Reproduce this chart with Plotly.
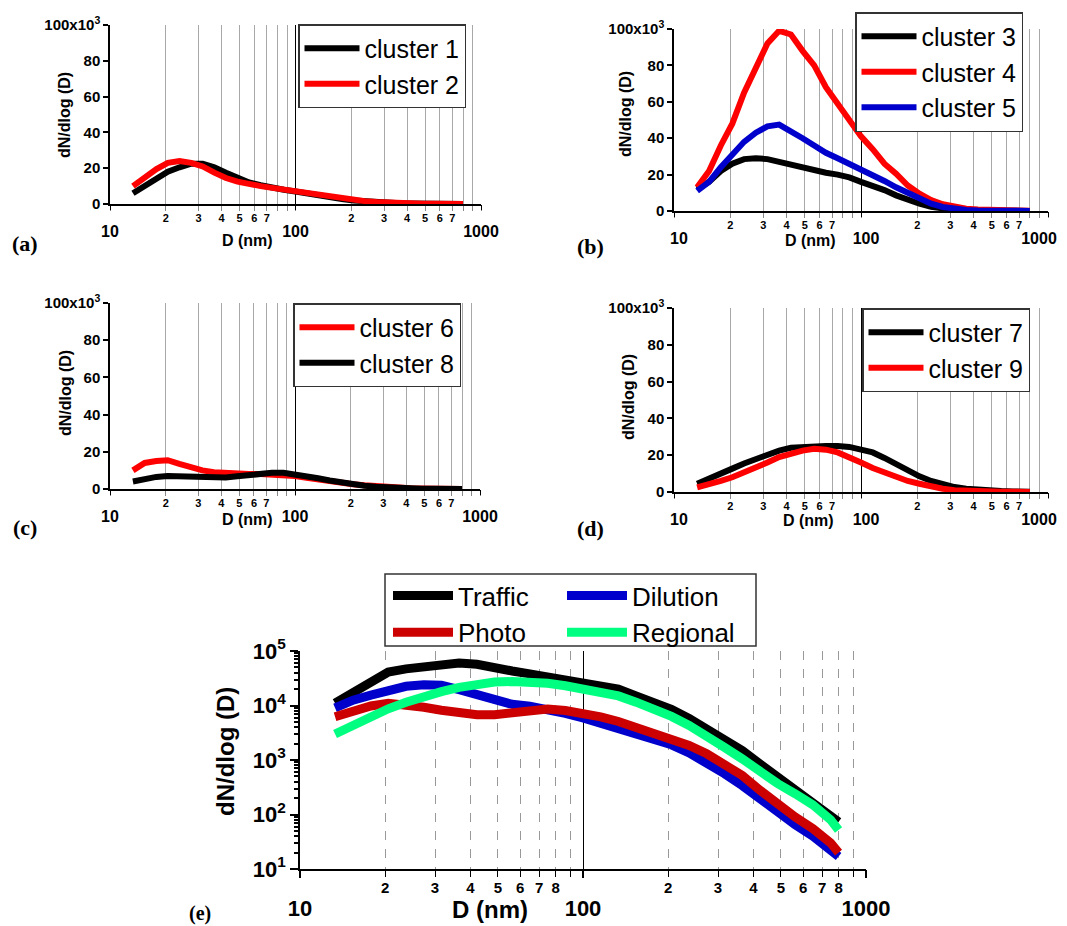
import plotly.graph_objects as go

W, H = 1067, 926          # reference picture size
OFF = 8                   # page body margin in the browser
FW, FH = W - OFF, H - OFF

# ---------------- data (panels a-d, values in 10^3 cm^-3) ----------------
D = [13.3, 15.4, 17.8, 20.5, 23.7, 27.4, 31.6, 36.5, 42.2, 48.7, 56.2, 64.9, 75.0, 86.6, 100,
     115.5, 133.4, 154.0, 177.8, 205.4, 237.1, 273.8, 316.2, 365.2, 421.7, 487.0, 562.3, 649.4, 749.9, 800]

cluster1 = [6, 10, 14, 18, 20.5, 22.5, 22.5, 20.5, 17.5, 14.5, 12, 10.5, 9, 8, 7,
            5.8, 4.7, 3.7, 2.8, 2, 1.4, 0.9, 0.6, 0.4, 0.25, 0.15, 0.1, 0.07, 0.05, 0.05]
cluster2 = [10, 15, 19.5, 23, 24, 23, 21, 17.5, 14.5, 12.5, 11, 10, 9, 8, 7,
            6, 5, 4, 3, 2.2, 1.6, 1.1, 0.7, 0.45, 0.3, 0.2, 0.12, 0.08, 0.05, 0.05]
cluster3 = [12, 16, 22, 26, 28.5, 29, 28.5, 27, 25, 23.5, 22, 21, 20, 18.5, 16,
            14, 11.5, 8.6, 6.2, 4, 2.3, 1.2, 0.6, 0.3, 0.15, 0.1, 0.08, 0.05, 0.05, 0.05]
cluster4 = [13, 22, 36, 48, 65, 79, 92, 99, 97, 88, 80, 68, 59, 50, 41,
            34, 26, 20.5, 14, 9.5, 6, 3.7, 2.2, 1.3, 0.8, 0.5, 0.3, 0.2, 0.1, 0.1]
cluster5 = [11, 16, 24, 31, 38, 43, 46.5, 47.5, 44, 40, 36, 32, 29, 26, 22.5,
            20, 16.5, 13, 10, 6.5, 4, 2.2, 1.0, 0.5, 0.25, 0.12, 0.08, 0.05, 0.05, 0.05]
cluster6 = [10, 14, 15, 15.5, 13.5, 11.5, 10, 9, 8.5, 8.3, 8, 8, 7.8, 7.7, 7,
            6, 5, 4, 3.3, 2.6, 2, 1.4, 1, 0.6, 0.4, 0.25, 0.15, 0.1, 0.05, 0.05]
cluster8 = [4, 5.5, 6.5, 7, 6.8, 6.5, 6.2, 6, 6.2, 6.8, 7.5, 8.2, 8.7, 8.7, 8,
            7, 5.8, 4.6, 3.5, 2.6, 1.8, 1.2, 0.8, 0.5, 0.3, 0.2, 0.12, 0.08, 0.05, 0.05]
cluster7 = [4.5, 7, 10, 12.7, 15.5, 18, 20.5, 22.5, 24, 24.5, 25, 25, 25, 24.5, 23,
            21.5, 18.5, 15, 11.5, 8.5, 6, 4, 2.7, 1.8, 1.1, 0.7, 0.5, 0.3, 0.2, 0.2]
cluster9 = [2.5, 4, 6, 8, 10.5, 13, 16, 19, 21, 22.5, 23.5, 23, 21.5, 19, 16,
            13, 10.5, 8, 6, 4.5, 3, 1.8, 1, 0.6, 0.3, 0.2, 0.1, 0.1, 0.05, 0.05]

# ---------------- data (panel e, cm^-3), same diameters ----------------
traffic = [11000, 17000, 26000, 41000, 47000, 52000, 56000, 60000, 57000, 48000, 43000, 38000,
           33500, 30000, 27000, 24000, 20000, 15000, 11500, 8500, 5800, 3800, 2400, 1500,
           850, 480, 290, 170, 95, 73]
dilution = [9000, 12500, 15500, 19000, 22500, 24000, 23500, 19500, 15500, 12500, 10500, 9700,
            8700, 7200, 5900, 4700, 3800, 3000, 2400, 1900, 1350, 900, 560, 340,
            190, 110, 65, 40, 22, 17]
photo = [6200, 8000, 9800, 11000, 10500, 9300, 8200, 7300, 6800, 6800, 7300, 8200,
         8600, 8100, 7300, 6200, 5100, 4000, 3200, 2500, 1850, 1300, 850, 520,
         280, 150, 90, 55, 30, 20]
regional = [3000, 4400, 6300, 8700, 11500, 15000, 18000, 21500, 24500, 27000, 27500, 27500,
            25500, 23000, 20500, 17500, 15000, 11500, 8700, 6300, 4300, 2800, 1700, 1050,
            600, 370, 240, 150, 80, 52]

# tick labels
lab_vals_ad = [20, 30, 40, 50, 60, 70, 200, 300, 400, 500, 600, 700]
lab_text_ad = ["2", "3", "4", "5", "6", "7", "2", "3", "4", "5", "6", "7"]
lab_vals_e = [20, 30, 40, 50, 60, 70, 80, 200, 300, 400, 500, 600, 700, 800]
lab_text_e = ["2", "3", "4", "5", "6", "7", "8", "2", "3", "4", "5", "6", "7", "8"]
major_vals = [10, 100, 1000]
major_text = ["10", "100", "1000"]
lin_y_vals = [0, 20000, 40000, 60000, 80000, 100000]
lin_y_text = ["0", "20", "40", "60", "80", "100x10<sup>3</sup>"]
log_y_vals = [10, 100, 1000, 10000, 100000]
log_y_text = ["10<sup>1</sup>", "10<sup>2</sup>", "10<sup>3</sup>", "10<sup>4</sup>", "10<sup>5</sup>"]

SANS = "Liberation Sans"
SERIF = "Liberation Serif"
RED, BLACK, BLUE = "#ff0000", "#000000", "#0000cc"


def fx(px):
    return (px - OFF) / FW


def fy(py):
    return 1 - (py - OFF) / FH


def dx(a, b):
    return [fx(a), fx(b)]


def dy(top, bot):
    return [fy(bot), fy(top)]


fig = go.Figure()

# id, x px, y px, traces, legend, legend pos, right column?
panels = [
    (1, (110, 481), (25, 204), [("cluster 1", cluster1, BLACK), ("cluster 2", cluster2, RED)], "legend", (298, 24), False),
    (2, (674, 1048), (29, 211), [("cluster 3", cluster3, BLACK), ("cluster 4", cluster4, RED),
                                 ("cluster 5", cluster5, BLUE)], "legend2", (855, 12), True),
    (3, (110, 480), (303, 489), [("cluster 6", cluster6, RED), ("cluster 8", cluster8, BLACK)], "legend3", (293, 303), False),
    (4, (674, 1048), (308, 492), [("cluster 7", cluster7, BLACK), ("cluster 9", cluster9, RED)], "legend4", (862, 308), True),
]

layout_axes = {}
legends = {}
extra_id = 11
for pid, xp, yp, trs, leg, lpos, right in panels:
    xs = "" if pid == 1 else str(pid)
    ov = str(pid + 5)
    for name, vals, col in trs:
        fig.add_trace(go.Scatter(x=D, y=[v * 1000 for v in vals], mode="lines", name=name,
                                 line=dict(color=col, width=6), xaxis="x" + xs, yaxis="y" + xs,
                                 legend=leg))
    fig.add_trace(go.Scatter(x=[], y=[], xaxis="x" + ov, yaxis="y" + xs, showlegend=False))
    layout_axes["xaxis" + xs] = dict(
        type="log", range=[1, 3], domain=dx(*xp), anchor="y" + xs, automargin=False,
        tickmode="array", tickvals=lab_vals_ad, ticktext=lab_text_ad,
        ticks="outside", ticklen=5, tickcolor="#888888", tickwidth=1,
        showgrid=True, gridcolor="#a8a8a8", gridwidth=1,
        minor=dict(dtick="D1", ticks="outside", ticklen=5,
                   tickcolor="#888888", showgrid=True, gridcolor="#a8a8a8", gridwidth=1),
        showline=True, linecolor="black", linewidth=1.5, zeroline=False,
        tickfont=dict(family=SANS, size=11, color="black", weight="bold"),
        ticklabelstandoff=-2,
    )
    major_common = dict(
        type="log", range=[1, 3], overlaying="x" + xs, anchor="y" + xs, automargin=False,
        tickmode="array", ticks="outside", ticklen=5, tickcolor="black", tickwidth=1,
        showgrid=True, gridcolor="black", gridwidth=1, showline=False, zeroline=False,
        tickfont=dict(family=SANS, size=16, color="black", weight="bold"),
        ticklabelstandoff=8,
    )
    if right:
        # the "1000" label sits at the picture edge: give it its own axis so it can be nudged inwards
        layout_axes["xaxis" + ov] = dict(major_common, tickvals=major_vals[:2], ticktext=major_text[:2],
                                         ticklabelshift=5)
        ex = str(extra_id)
        extra_id += 1
        fig.add_trace(go.Scatter(x=[], y=[], xaxis="x" + ex, yaxis="y" + xs, showlegend=False))
        layout_axes["xaxis" + ex] = dict(major_common, tickvals=major_vals[2:], ticktext=major_text[2:],
                                         ticklabelshift=-9)
    else:
        layout_axes["xaxis" + ov] = dict(major_common, tickvals=major_vals, ticktext=major_text)
    layout_axes["yaxis" + xs] = dict(
        range=[0, 100000], domain=dy(*yp), anchor="x" + xs, automargin=False,
        tickmode="array", tickvals=lin_y_vals, ticktext=lin_y_text,
        ticks="outside", ticklen=5, tickcolor="black", tickwidth=1.5,
        showgrid=False, showline=True, linecolor="black", linewidth=1.5, zeroline=False,
        tickfont=dict(family=SANS, size=15, color="black", weight="bold"),
    )
    legends[leg] = dict(
        x=fx(lpos[0]), y=fy(lpos[1]), xanchor="left", yanchor="top",
        bgcolor="white", bordercolor="#333333", borderwidth=1.5,
        font=dict(family=SANS, size=25, color="black"), itemwidth=55,
        tracegroupgap=0,
    )

# ---------------- panel e ----------------
for name, vals, col, leg in [("Traffic", traffic, "#000000", "legend5"),
                             ("Dilution", dilution, "#0000cc", "legend6"),
                             ("Photo", photo, "#cc0000", "legend5"),
                             ("Regional", regional, "#00ff80", "legend6")]:
    fig.add_trace(go.Scatter(x=D, y=vals, mode="lines", name=name,
                             line=dict(color=col, width=9), xaxis="x5", yaxis="y5", legend=leg))
fig.add_trace(go.Scatter(x=[], y=[], xaxis="x10", yaxis="y5", showlegend=False))

layout_axes["xaxis5"] = dict(
    type="log", range=[1, 3], domain=dx(300, 866), anchor="y5", automargin=False,
    tickmode="array", tickvals=lab_vals_e, ticktext=lab_text_e,
    ticks="outside", ticklen=6, tickcolor="black", tickwidth=1,
    showgrid=True, gridcolor="#999999", gridwidth=1, griddash="dash",
    minor=dict(dtick="D1", ticks="outside", ticklen=6,
               tickcolor="black", showgrid=True, gridcolor="#999999", gridwidth=1, griddash="dash"),
    showline=True, linecolor="black", linewidth=1.5, zeroline=False,
    tickfont=dict(family=SANS, size=15, color="black", weight="bold"),
    ticklabelstandoff=-2,
)
layout_axes["xaxis10"] = dict(
    type="log", range=[1, 3], overlaying="x5", anchor="y5", automargin=False,
    tickmode="array", tickvals=major_vals, ticktext=major_text,
    ticks="outside", ticklen=8, tickcolor="black", tickwidth=1.5,
    showgrid=True, gridcolor="black", gridwidth=1.2, showline=False, zeroline=False,
    tickfont=dict(family=SANS, size=22, color="black", weight="bold"),
    ticklabelstandoff=12,
)
layout_axes["yaxis5"] = dict(
    type="log", range=[1, 5], domain=dy(651, 869), anchor="x5", automargin=False,
    tickmode="array", tickvals=log_y_vals, ticktext=log_y_text,
    ticks="outside", ticklen=8, tickcolor="black", tickwidth=1.5,
    minor=dict(dtick="D1", ticks="outside", ticklen=4, tickcolor="black", showgrid=False),
    showgrid=False, showline=True, linecolor="black", linewidth=1.5, zeroline=False,
    tickfont=dict(family=SANS, size=22, color="black", weight="bold"),
)
legends["legend5"] = dict(x=fx(388), y=fy(572), xanchor="left", yanchor="top",
                          bgcolor="rgba(0,0,0,0)", borderwidth=0,
                          font=dict(family=SANS, size=26, color="black"), itemwidth=60)
legends["legend6"] = dict(x=fx(562), y=fy(572), xanchor="left", yanchor="top",
                          bgcolor="rgba(0,0,0,0)", borderwidth=0,
                          font=dict(family=SANS, size=26, color="black"), itemwidth=60)

# ---------------- annotations ----------------
ann = []


def text_at(px, py, txt, size, family=SANS, angle=0, bold=True):
    ann.append(dict(x=fx(px), y=fy(py), xref="paper", yref="paper", text=txt, showarrow=False,
                    xanchor="center", yanchor="middle", textangle=angle,
                    font=dict(family=family, size=size, color="black", weight="bold" if bold else "normal")))


for (tx, ty), (yx, yy), (lx, ly), lab in [((247, 240), (65, 115), (25, 243), "(a)"),
                                          ((810, 240), (625, 114), (590, 246), "(b)"),
                                          ((247, 519), (65, 393), (25, 527), "(c)"),
                                          ((808, 520), (628, 397), (590, 528), "(d)")]:
    text_at(tx, ty, "D (nm)", 16)
    text_at(yx, yy, "dN/dlog (D)", 16, angle=-90)
    text_at(lx, ly, lab, 22, family=SERIF)

text_at(490, 909, "D (nm)", 24)
text_at(225, 752, "dN/dlog (D)", 24, angle=-90)
text_at(200, 913, "(e)", 20, family=SERIF)

fig.update_layout(
    width=FW, height=FH, margin=dict(l=0, r=0, t=0, b=0, autoexpand=False),
    paper_bgcolor="white", plot_bgcolor="rgba(0,0,0,0)",
    annotations=ann,
    shapes=[dict(type="rect", xref="paper", yref="paper", x0=fx(385), x1=fx(756),
                 y0=fy(646), y1=fy(574), line=dict(color="#333333", width=1.5),
                 fillcolor="rgba(0,0,0,0)")],
    **layout_axes, **legends,
)

fig.write_html("out.html")
